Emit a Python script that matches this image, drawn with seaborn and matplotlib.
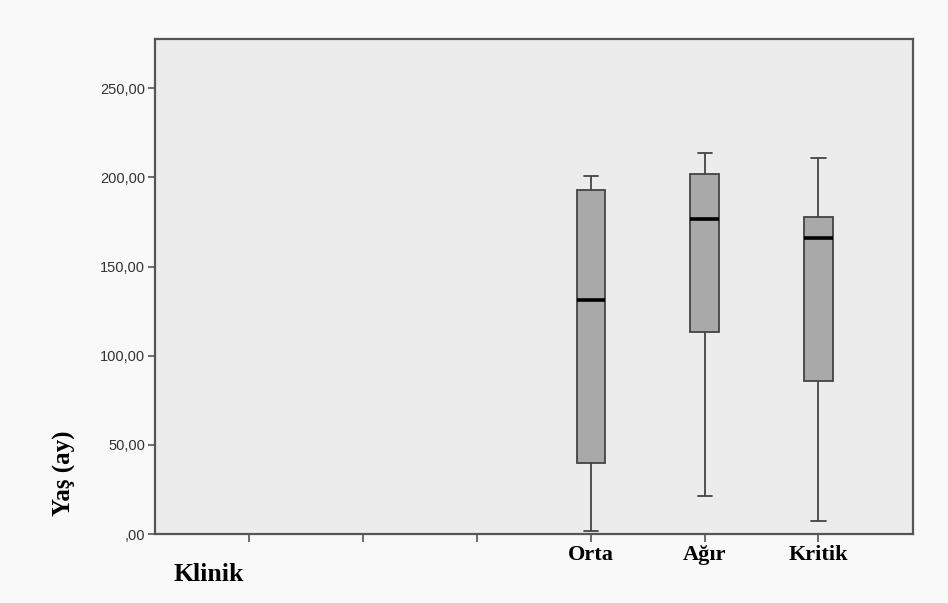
import numpy as np
import pandas as pd
import matplotlib
matplotlib.use("Agg")
import matplotlib.pyplot as plt
from matplotlib.ticker import FuncFormatter
import seaborn as sns

# category order (first three levels have no cases)
groups = ["", " ", "  ", "Orta", "Ağır", "Kritik"]

# five-number values: min, Q1, median, Q3, max
orta = [1.7, 39.9, 131.3, 193.2, 200.8]
agir = [21.3, 113.5, 176.4, 202.1, 213.6]
kritik = [7.3, 85.6, 165.8, 177.9, 210.7]

df = pd.DataFrame({
    "grup": ["Orta"] * len(orta) + ["Ağır"] * len(agir) + ["Kritik"] * len(kritik),
    "yas": orta + agir + kritik,
})

sns.set_style("white")
serif = ["Liberation Serif", "DejaVu Serif"]
sans = ["Liberation Sans", "DejaVu Sans"]

fig = plt.figure(figsize=(9.48, 6.03), dpi=100, facecolor="#f9f9f9")
ax = fig.add_axes([0.1635, 0.1144, 0.7995, 0.8209])
ax.set_facecolor("#ececec")

sns.boxplot(data=df, x="grup", y="yas", order=groups, ax=ax,
            color="#a9a9a9", saturation=1, width=0.25, linecolor="#444444",
            linewidth=1.3,
            medianprops=dict(color="black", linewidth=2.6))

ax.set_xlim(-0.83, 5.83)
ax.set_ylim(0, 277.6)
ax.set_yticks([0, 50, 100, 150, 200, 250])
ax.yaxis.set_major_formatter(FuncFormatter(
    lambda v, p: ",00" if v == 0 else f"{v:.2f}".replace(".", ",")))

for s in ax.spines.values():
    s.set_color("#555555")
    s.set_linewidth(1.6)

ax.tick_params(axis="y", left=True, direction="out", length=5, width=1.2,
               color="#555555", pad=2, labelsize=10.5, labelcolor="#333333")
ax.tick_params(axis="x", bottom=True, direction="out", length=6, width=1.2,
               color="#555555", pad=2, labelcolor="black")
for lab in ax.get_yticklabels():
    lab.set_family(sans)
for lab in ax.get_xticklabels():
    lab.set_family(serif)
    lab.set_fontweight("bold")
    lab.set_fontsize(16)

ax.set_xlabel("Klinik", family=serif, fontweight="bold", fontsize=18.5,
              color="black")
ax.xaxis.set_label_coords(0.071, -0.081)
ax.xaxis.label.set_va("center")
ax.set_ylabel("Yaş (ay)", family=serif, fontweight="bold", fontsize=18,
              color="black")
ax.yaxis.set_label_coords(-0.119, 0.123)
ax.yaxis.label.set_va("center")

fig.savefig("out.png", dpi=100, facecolor=fig.get_facecolor())
